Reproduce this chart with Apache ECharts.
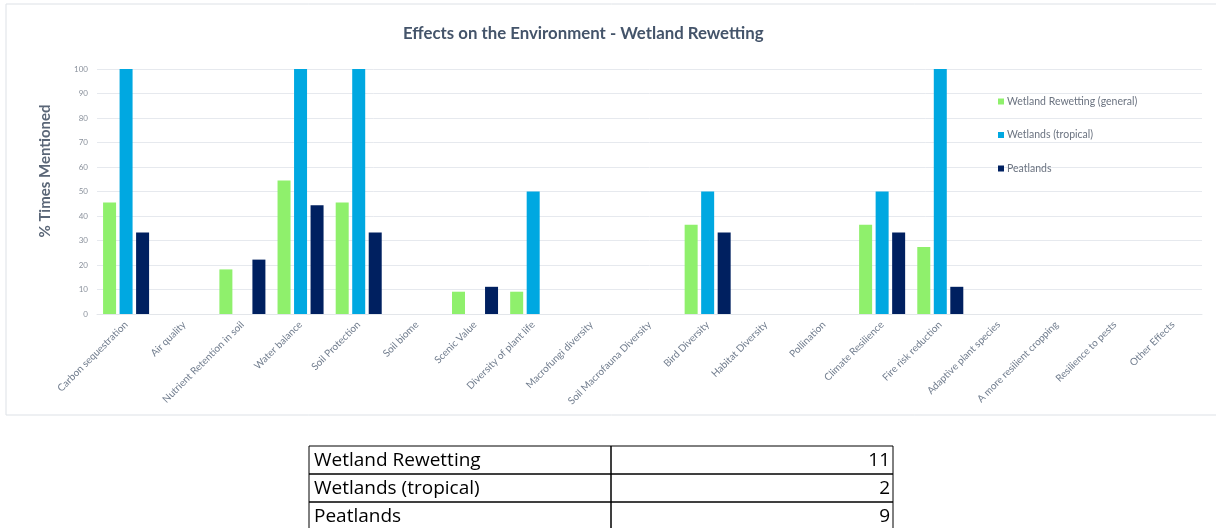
<!DOCTYPE html>
<html>
<head>
<meta charset="utf-8">
<script src="https://cdn.jsdelivr.net/npm/echarts@6/dist/echarts.min.js"></script>
<style>
  html, body { margin: 0; padding: 0; background: #ffffff; }
  #chart { width: 1216px; height: 528px; }
</style>
</head>
<body>
<div id="chart"></div>
<script>
// Effects mentioned, as % of sources per wetland type
const categories = [
  'Carbon sequestration', 'Air quality', 'Nutrient Retention in soil', 'Water balance',
  'Soil Protection', 'Soil biome', 'Scenic Value', 'Diversity of plant life',
  'Macrofungi diversity', 'Soil Macrofauna Diversity', 'Bird Diversity', 'Habitat Diversity',
  'Pollination', 'Climate Resilience', 'Fire risk reduction', 'Adaptive plant species',
  'A more resilient cropping', 'Resilience to pests', 'Other Effects'
];
const seriesNames = ['Wetland Rewetting (general)', 'Wetlands (tropical)', 'Peatlands'];
const generalPct  = [45.5, 0, 18.2, 54.5, 45.5, 0, 9.1, 9.1, 0, 0, 36.4, 0, 0, 36.4, 27.3, 0, 0, 0, 0];
const tropicalPct = [100, 0, 0, 100, 100, 0, 0, 50, 0, 0, 50, 0, 0, 50, 100, 0, 0, 0, 0];
const peatPct     = [33.3, 0, 22.2, 44.4, 33.3, 0, 11.1, 0, 0, 0, 33.3, 0, 0, 33.3, 11.1, 0, 0, 0, 0];

// Number of sources per type (table under the chart)
const tableLabels = ['Wetland Rewetting', 'Wetlands (tropical)', 'Peatlands'];
const tableCounts = [11, 2, 9];

const colors = ['#8ff06c', '#00a8e1', '#002060'];

const chart = echarts.init(document.getElementById('chart'), null, { renderer: 'canvas' });

// Source count table drawn as graphic elements
const tableLeft = 309, tableMid = 611, tableRight = 893, tableTop = 446, rowH = 28;
const tableGraphics = [];
tableLabels.forEach(function (label, i) {
  const y = tableTop + i * rowH;
  tableGraphics.push({
    type: 'rect', shape: { x: tableLeft, y: y, width: tableMid - tableLeft, height: rowH },
    style: { fill: 'none', stroke: '#000', lineWidth: 1 }
  });
  tableGraphics.push({
    type: 'rect', shape: { x: tableMid, y: y, width: tableRight - tableMid, height: rowH },
    style: { fill: 'none', stroke: '#000', lineWidth: 1 }
  });
  tableGraphics.push({
    type: 'text', x: tableLeft + 5, y: y + rowH / 2 + 1,
    style: { text: label, fill: '#000', font: '19px "Open Sans"', verticalAlign: 'middle', align: 'left' }
  });
  tableGraphics.push({
    type: 'text', x: tableRight - 3, y: y + rowH / 2 + 1,
    style: { text: String(tableCounts[i]), fill: '#000', font: '19px "Open Sans"', verticalAlign: 'middle', align: 'right' }
  });
});

const barCommon = { type: 'bar', barWidth: 13, barGap: '27%' };

chart.setOption({
  animation: false,
  backgroundColor: '#ffffff',
  title: {
    text: 'Effects on the Environment - Wetland Rewetting',
    left: 398, top: 20,
    textStyle: { fontFamily: 'Lato', fontSize: 16.8, fontWeight: 'bold', color: '#44546a' }
  },
  legend: {
    orient: 'vertical', left: 993, top: 91,
    itemWidth: 6, itemHeight: 6, itemGap: 22.5, icon: 'rect',
    textStyle: { fontFamily: 'Lato', fontSize: 10.5, color: '#6b7380', padding: [0, 0, 0, -2] },
    data: seriesNames
  },
  grid: { left: 97, right: 14, top: 69, bottom: 214, containLabel: false },
  xAxis: {
    type: 'category', data: categories,
    axisTick: { show: false },
    axisLine: { lineStyle: { color: '#e3e6ea', width: 1 } },
    axisLabel: { interval: 0, rotate: 45, fontFamily: 'Lato', fontSize: 10, color: '#717d8e', margin: 9 }
  },
  yAxis: {
    type: 'value', min: 0, max: 100, interval: 10,
    axisLine: { show: false }, axisTick: { show: false },
    axisLabel: { fontFamily: 'Lato', fontSize: 8, color: '#8a919c', margin: 9 },
    splitLine: { lineStyle: { color: '#e6e9ee', width: 1 } }
  },
  series: [
    Object.assign({}, barCommon, { name: seriesNames[0], data: generalPct, itemStyle: { color: colors[0] } }),
    Object.assign({}, barCommon, { name: seriesNames[1], data: tropicalPct, itemStyle: { color: colors[1] } }),
    Object.assign({}, barCommon, { name: seriesNames[2], data: peatPct, itemStyle: { color: colors[2] } })
  ],
  graphic: [
    {
      type: 'rect', shape: { x: 6, y: 4, width: 1220, height: 411 },
      style: { fill: 'none', stroke: '#dde1e6', lineWidth: 1 }, z: -1
    },
    {
      // value axis title
      type: 'text', x: 45, y: 171, rotation: Math.PI / 2,
      style: {
        text: '% Times Mentioned', fill: '#5a6677',
        font: 'bold 15px Lato', align: 'center', verticalAlign: 'middle'
      }
    }
  ].concat(tableGraphics)
});
</script>
</body>
</html>
